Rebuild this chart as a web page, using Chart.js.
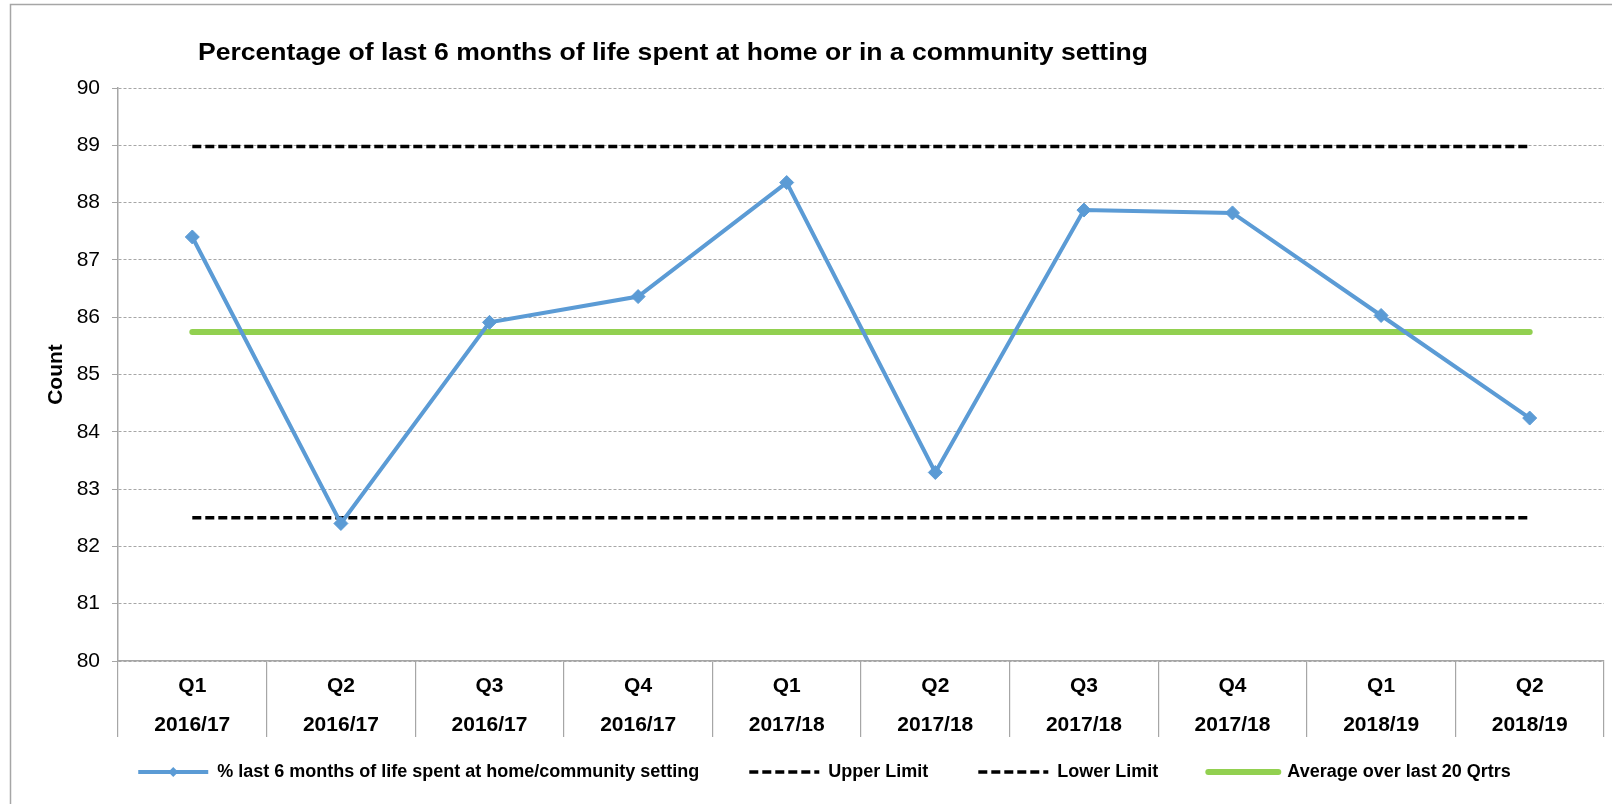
<!DOCTYPE html>
<html>
<head>
<meta charset="utf-8">
<script src="https://cdn.jsdelivr.net/npm/chart.js@4"></script>
<style>
html, body { margin: 0; padding: 0; background: #fff; overflow: hidden; }
</style>
</head>
<body>
<canvas id="myCanvas" width="1612" height="804"></canvas>
<script>
'use strict';

var chartTitle = 'Percentage of last 6 months of life spent at home or in a community setting';
var quarters = [
    ['Q1', '2016/17'], ['Q2', '2016/17'], ['Q3', '2016/17'], ['Q4', '2016/17'],
    ['Q1', '2017/18'], ['Q2', '2017/18'], ['Q3', '2017/18'], ['Q4', '2017/18'],
    ['Q1', '2018/19'], ['Q2', '2018/19']
];
var homePct    = [87.40, 82.40, 85.91, 86.36, 88.35, 83.29, 87.87, 87.82, 86.03, 84.24];
var upperLimit = [88.98, 88.98, 88.98, 88.98, 88.98, 88.98, 88.98, 88.98, 88.98, 88.98];
var lowerLimit = [82.50, 82.50, 82.50, 82.50, 82.50, 82.50, 82.50, 82.50, 82.50, 82.50];
var average20  = [85.74, 85.74, 85.74, 85.74, 85.74, 85.74, 85.74, 85.74, 85.74, 85.74];
var yMin = 80, yMax = 90, yStep = 1;

var FONT = '"Liberation Sans", Arial, sans-serif';
var blue = '#5B9BD5';
var green = '#92D050';
var grey = '#a6a6a6';

// title + outer frame, legend nudge, and the diamond on the first legend sample
var sheetDecor = {
    id: 'sheetDecor',
    afterLayout: function(chart) {
        // pull the legend row up so it sits just under the quarter labels
        if (chart.legend) {
            chart.legend.top -= 26;
            chart.legend.bottom -= 26;
        }
    },
    beforeDraw: function(chart) {
        var ctx = chart.ctx;
        ctx.save();
        ctx.strokeStyle = grey;
        ctx.lineWidth = 1.5;
        ctx.strokeRect(10.5, 4.5, 1700, 900);
        ctx.fillStyle = '#000';
        ctx.font = 'bold 24px ' + FONT;
        ctx.textAlign = 'left';
        ctx.textBaseline = 'alphabetic';
        var w = ctx.measureText(chartTitle).width;
        ctx.translate(198, 60);
        ctx.scale(950 / w, 1);
        ctx.fillText(chartTitle, 0, 0);
        ctx.restore();
    },
    afterDraw: function(chart) {
        var lg = chart.legend;
        if (!lg || !lg.legendHitBoxes || !lg.legendHitBoxes.length) return;
        var hb = lg.legendHitBoxes[0];
        var cx = hb.left + lg.options.labels.pointStyleWidth / 2;
        var cy = hb.top + hb.height / 2;
        var r = 5;
        var ctx = chart.ctx;
        ctx.save();
        ctx.fillStyle = blue;
        ctx.beginPath();
        ctx.moveTo(cx, cy - r);
        ctx.lineTo(cx + r, cy);
        ctx.lineTo(cx, cy + r);
        ctx.lineTo(cx - r, cy);
        ctx.closePath();
        ctx.fill();
        ctx.restore();
    }
};

var ctx = document.getElementById('myCanvas').getContext('2d');
var myChart = new Chart(ctx, {
    type: 'line',
    data: {
        labels: quarters,
        datasets: [
            {
                label: '% last 6 months of life spent at home/community setting',
                data: homePct,
                borderColor: blue,
                backgroundColor: blue,
                borderWidth: 4,
                pointStyle: 'rectRot',
                pointRadius: 7,
                pointBorderWidth: 1,
                tension: 0
            },
            {
                label: 'Upper Limit',
                data: upperLimit,
                borderColor: '#000',
                backgroundColor: '#000',
                borderWidth: 3.5,
                borderDash: [9, 4],
                pointRadius: 0
            },
            {
                label: 'Lower Limit',
                data: lowerLimit,
                borderColor: '#000',
                backgroundColor: '#000',
                borderWidth: 3.5,
                borderDash: [9, 4],
                pointRadius: 0
            },
            {
                label: 'Average over last 20 Qrtrs',
                data: average20,
                borderColor: green,
                backgroundColor: green,
                borderWidth: 6,
                borderCapStyle: 'round',
                pointRadius: 0
            }
        ]
    },
    options: {
        responsive: false,
        animation: false,
        layout: { padding: { top: 88, left: 44, right: 7, bottom: -13 } },
        plugins: {
            title: { display: false },
            tooltip: { enabled: false },
            legend: {
                position: 'bottom',
                labels: {
                    usePointStyle: true,
                    pointStyle: 'line',
                    pointStyleWidth: 70,
                    padding: 50,
                    color: '#000',
                    font: { family: FONT, size: 18, weight: 'bold' },
                    generateLabels: function(chart) {
                        var items = Chart.defaults.plugins.legend.labels.generateLabels(chart);
                        items.forEach(function(item) {
                            var ds = chart.data.datasets[item.datasetIndex];
                            item.lineDash = ds.borderDash || [];
                            item.lineWidth = ds.borderWidth;
                            item.strokeStyle = ds.borderColor;
                            item.lineCap = ds.borderCapStyle || 'butt';
                        });
                        return items;
                    }
                }
            }
        },
        scales: {
            x: {
                offset: true,
                afterFit: function(scale) { scale.height = 78; },
                grid: {
                    offset: true,
                    drawOnChartArea: false,
                    tickLength: 76,
                    color: grey,
                    lineWidth: 1.2
                },
                border: { display: true, color: grey, width: 1.5 },
                ticks: {
                    autoSkip: false,
                    maxRotation: 0,
                    padding: -70,
                    color: '#000',
                    font: { family: FONT, size: 21, weight: 'bold', lineHeight: 1.86 }
                }
            },
            y: {
                min: yMin,
                max: yMax,
                afterFit: function(scale) { scale.width = 74; },
                grid: { color: grey, lineWidth: 1, tickLength: 6 },
                border: { display: true, color: grey, width: 1.5, dash: [3, 2] },
                ticks: {
                    stepSize: yStep,
                    padding: 12,
                    color: '#000',
                    font: { family: FONT, size: 21 }
                },
                title: {
                    display: true,
                    text: 'Count',
                    color: '#000',
                    padding: { top: 0, bottom: 0 },
                    font: { family: FONT, size: 21, weight: 'bold' }
                }
            }
        }
    },
    plugins: [sheetDecor]
});
</script>
</body>
</html>
